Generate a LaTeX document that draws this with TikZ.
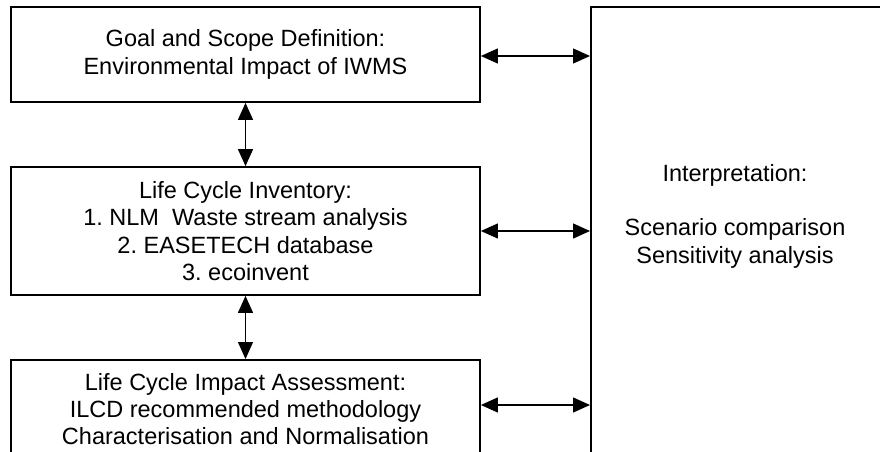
\documentclass[tikz,border=0pt]{standalone}
\usepackage{fontspec}
\setmainfont{Liberation Sans}
\usetikzlibrary{arrows.meta}
\frenchspacing
\begin{document}
\begin{tikzpicture}[x=1pt,y=-1pt,
  stagebox/.style={draw,line width=1.8pt,minimum width=469pt,inner sep=0pt,
    align=center,font=\fontsize{23.5}{27.3}\selectfont},
  link/.style={line width=1.3pt,{Triangle[length=17pt,width=15pt]}-{Triangle[length=17pt,width=15pt]}},
  label/.style={align=center,font=\fontsize{23.5}{27.3}\selectfont}]
  \clip (0,0) rectangle (880,452);
  \fill[white] (0,0) rectangle (880,452);

  % left column of stages
  \node[stagebox,minimum height=95pt] (goal) at (245.5,54.5)
    {Goal and Scope Definition:\\Environmental Impact of IWMS};
  \node[stagebox,minimum height=128pt] (lci) at (245.5,231)
    {Life Cycle Inventory:\\1. NLM\ \ Waste stream analysis\\2. EASETECH database\\3. ecoinvent};
  \node[stagebox,minimum height=100pt,anchor=north] (lcia) at (245.5,359) {};
  \node[label] (lciatext) at (245.5,409)
    {Life Cycle Impact Assessment:\\ILCD recommended methodology\\Characterisation and Normalisation};

  % interpretation column, running past the page edges
  \node[draw,line width=1.8pt,minimum width=294pt,minimum height=470pt,
    anchor=north west,inner sep=0pt] (interp) at (590,6) {};
  \node[label] (interptext) at (735,216)
    {Interpretation:\\[27.3pt]Scenario comparison\\Sensitivity analysis};

  % connectors
  \draw[link] ([yshift=-1.5pt]goal.east) -- ([yshift=-1.5pt]goal.east -| interp.west);
  \draw[link] (goal.south) -- (lci.north);
  \draw[link] (lci.south) -- (lcia.north);
  \draw[link] (lci.east) -- (lci.east -| interp.west);
  \path (lcia.east |- lciatext.center) ++(0,-4) coordinate (lciaout);
  \draw[link] (lciaout) -- (lciaout -| interp.west);
\end{tikzpicture}
\end{document}
